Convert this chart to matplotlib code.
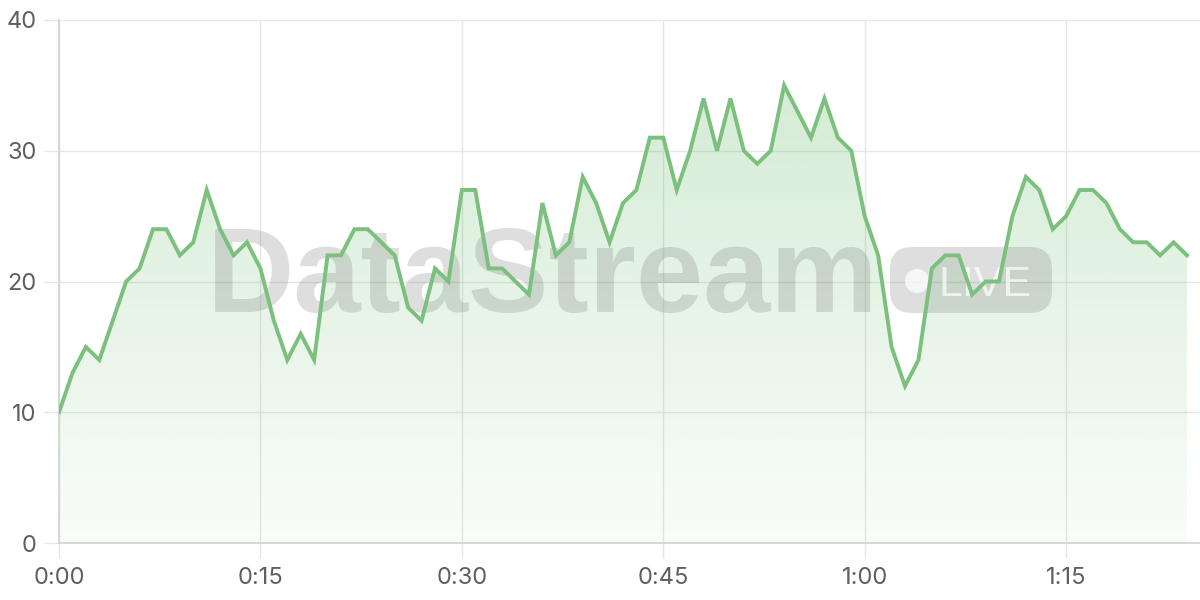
import matplotlib
matplotlib.use('Agg')
import matplotlib.pyplot as plt
import numpy as np
from matplotlib.patches import FancyBboxPatch, Circle, PathPatch
from matplotlib.transforms import IdentityTransform
from matplotlib.colors import to_rgb

# ---- data ----
minutes = list(range(85))
values = [10, 13, 15, 14, 17, 20, 21, 24, 24, 22, 23, 27, 24, 22, 23, 21, 17, 14, 16, 14,
          22, 22, 24, 24, 23, 22, 18, 17, 21, 20, 27, 27, 21, 21, 20, 19, 26, 22, 23, 28,
          26, 23, 26, 27, 31, 31, 27, 30, 34, 30, 34, 30, 29, 30, 35, 33, 31, 34, 31, 30,
          25, 22, 15, 12, 14, 21, 22, 22, 19, 20, 20, 25, 28, 27, 24, 25, 27, 27, 26, 24,
          23, 23, 22, 23, 22]
x_ticks = [0, 15, 30, 45, 60, 75]
x_tick_labels = ['0:00', '0:15', '0:30', '0:45', '1:00', '1:15']
y_ticks = [0, 10, 20, 30, 40]

line_color = '#7cc07e'
fill_rgb = to_rgb('#4caf50')
tick_color = '#5f5f5f'
grid_color = '#e6e6e6'
spine_color = '#d4d4d4'

plt.rcParams['font.family'] = ['Inter', 'DejaVu Sans']

fig = plt.figure(figsize=(12, 6), dpi=100)
ax = fig.add_axes([59 / 1200, 57 / 600, 1141 / 1200, 523 / 600])

xmax = 84 * 1141 / 1128
ax.set_xlim(0, xmax)
ax.set_ylim(0, 40)

# gradient fill under the line
poly = ax.fill_between(minutes, values, 0, color='none', lw=0, zorder=1)
grad = np.linspace(0.27, 0.03, 256).reshape(-1, 1)
img = np.zeros((256, 1, 4))
img[..., 0] = fill_rgb[0]
img[..., 1] = fill_rgb[1]
img[..., 2] = fill_rgb[2]
img[..., 3] = grad
im = ax.imshow(img, extent=[0, 84, 0, 40], origin='upper', aspect='auto', zorder=1)
path = poly.get_paths()[0]
patch = PathPatch(path, transform=ax.transData, facecolor='none', edgecolor='none')
ax.add_patch(patch)
im.set_clip_path(patch)

ax.plot(minutes, values, color=line_color, lw=2.8, zorder=4, solid_joinstyle='miter')

# watermark
wm_color = (0.45, 0.45, 0.45, 0.23)
ax.text(207 / 1200, (600 - 312) / 600, 'DataStream', transform=fig.transFigure,
        fontsize=87, fontweight='bold', family='Liberation Sans', color=wm_color,
        ha='left', va='baseline', zorder=2)
badge = FancyBboxPatch((890, 287), 162, 66, boxstyle='round,pad=0,rounding_size=22',
                       transform=IdentityTransform(), facecolor=wm_color, edgecolor='none',
                       zorder=2, clip_on=False)
ax.add_patch(badge)
dot = Circle((917, 319), 12, transform=IdentityTransform(), facecolor=(1, 1, 1, 0.75),
             edgecolor='none', zorder=2.1, clip_on=False)
ax.add_patch(dot)
ax.text(938 / 1200, (600 - 296) / 600, 'LIVE', transform=fig.transFigure,
        fontsize=31, family='Liberation Sans', color=(1, 1, 1, 0.7),
        ha='left', va='baseline', zorder=2.1)

# axes styling
ax.set_xticks(x_ticks)
ax.set_xticklabels(x_tick_labels)
ax.set_yticks(y_ticks)
ax.grid(True, color=grid_color, lw=1.0, zorder=0)
ax.set_axisbelow(True)
for s in ['top', 'right']:
    ax.spines[s].set_visible(False)
for s in ['left', 'bottom']:
    ax.spines[s].set_color(spine_color)
    ax.spines[s].set_linewidth(1.3)
ax.tick_params(axis='both', colors=grid_color, length=11, width=1.0, labelsize=17,
               labelcolor=tick_color)
ax.tick_params(axis='y', pad=5)
ax.tick_params(axis='x', pad=6)

fig.savefig('out.png', dpi=100, facecolor='white')
